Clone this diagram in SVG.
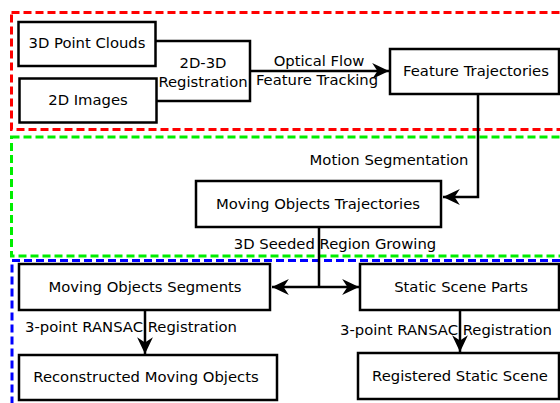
<svg xmlns="http://www.w3.org/2000/svg" width="560" height="403" viewBox="0 0 560 403">
<style>
text{font-family:"DejaVu Sans","Liberation Sans",sans-serif;font-size:14.8px;fill:#000;text-anchor:middle}
.box{fill:#fff;stroke:#000;stroke-width:2.5}
.ln{fill:none;stroke:#000;stroke-width:2.5}
.zone{fill:none;stroke-width:3;stroke-dasharray:8,4}
</style>
<defs>
<marker id="ah" markerUnits="userSpaceOnUse" markerWidth="20" markerHeight="20" viewBox="-17 -9 19 18" refX="0" refY="0" orient="auto">
<path d="M0,0 L-16,-7.5 L-11,0 L-16,7.5 Z" fill="#000"/>
</marker>
</defs>
<g id="zones">
<rect class="zone" x="11.5" y="12.5" width="560" height="117" stroke="#ff0000"/>
<rect class="zone" x="11.5" y="137" width="560" height="119" stroke="#00ee00"/>
<rect class="zone" x="12" y="260.5" width="560" height="160" stroke="#0000ff"/>
</g>
<g id="connectors">
<polyline class="ln" points="156,41 250,41 250,101 156,101"/>
<line class="ln" x1="250" y1="71" x2="389" y2="71" marker-end="url(#ah)"/>
<polyline class="ln" points="478,94 478,197 443,197" marker-end="url(#ah)"/>
<line class="ln" x1="319" y1="227" x2="319" y2="287"/>
<line class="ln" x1="319" y1="287" x2="272" y2="287" marker-end="url(#ah)"/>
<line class="ln" x1="319" y1="287" x2="359" y2="287" marker-end="url(#ah)"/>
<line class="ln" x1="145" y1="310" x2="145" y2="354" marker-end="url(#ah)"/>
<line class="ln" x1="460" y1="310" x2="460" y2="352" marker-end="url(#ah)"/>
<text x="203" y="68">2D-3D</text>
<text x="203" y="87">Registration</text>
<text x="319" y="66">Optical Flow</text>
<text x="317" y="85">Feature Tracking</text>
<text x="389" y="165">Motion Segmentation</text>
<text x="335" y="249">3D Seeded Region Growing</text>
<text x="131" y="332">3-point RANSAC Registration</text>
<text x="446" y="335">3-point RANSAC Registration</text>
</g>
<g id="pointclouds"><rect class="box" x="18.5" y="22" width="137" height="44"/><text x="87" y="48">3D Point Clouds</text></g>
<g id="images"><rect class="box" x="19.5" y="78.5" width="137" height="44"/><text x="88" y="105">2D Images</text></g>
<g id="featuretraj"><rect class="box" x="390" y="49" width="169" height="45"/><text x="476" y="76">Feature Trajectories</text></g>
<g id="movingtraj"><rect class="box" x="196" y="181" width="245" height="46"/><text x="318" y="209">Moving Objects Trajectories</text></g>
<g id="movingseg"><rect class="box" x="19" y="264" width="251" height="46"/><text x="145" y="292">Moving Objects Segments</text></g>
<g id="staticparts"><rect class="box" x="360" y="264" width="199" height="46"/><text x="461" y="292">Static Scene Parts</text></g>
<g id="reconstructed"><rect class="box" x="19" y="355" width="258" height="45"/><text x="146" y="382">Reconstructed Moving Objects</text></g>
<g id="registered"><rect class="box" x="358" y="353" width="201" height="46"/><text x="460" y="381">Registered Static Scene</text></g>
</svg>
